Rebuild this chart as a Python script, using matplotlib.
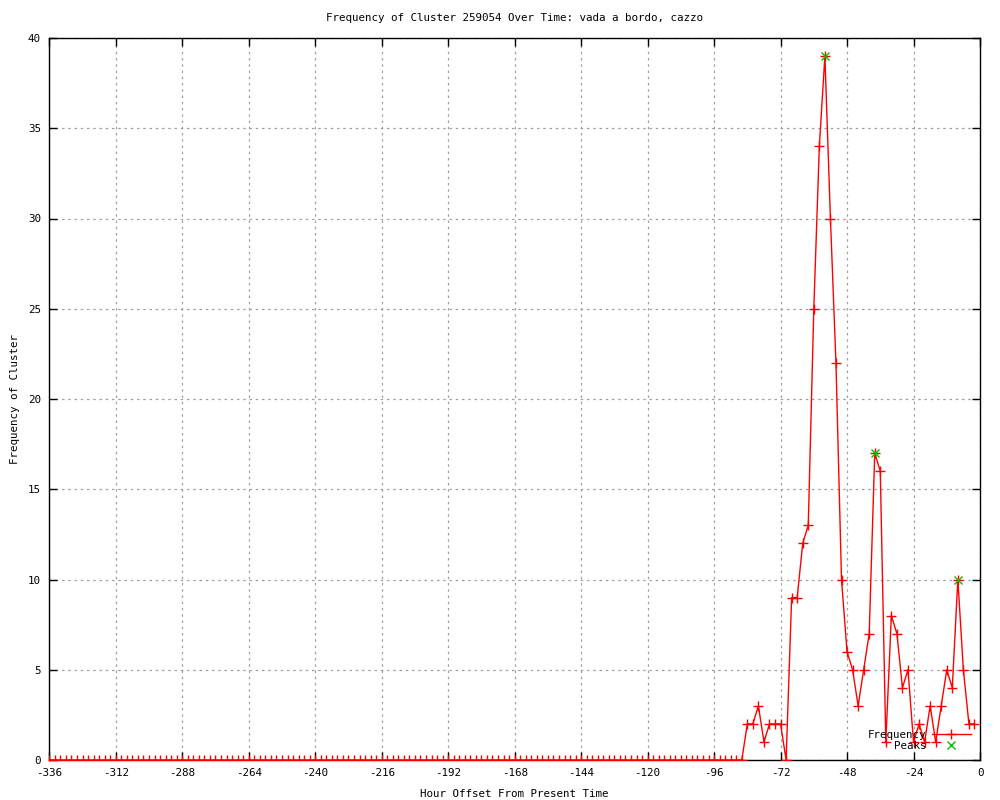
import numpy as np
import matplotlib
matplotlib.use("Agg")
import matplotlib.pyplot as plt

plt.rcParams['font.family'] = ['DejaVu Sans Mono']
plt.rcParams['axes.unicode_minus'] = False

hours = np.arange(-336, 0, 2)

frequency = [
    0, 0, 0, 0, 0, 0, 0, 0, 0, 0, 0, 0, 0, 0, 0, 0, 0, 0, 0, 0, 0,
    0, 0, 0, 0, 0, 0, 0, 0, 0, 0, 0, 0, 0, 0, 0, 0, 0, 0, 0, 0, 0,
    0, 0, 0, 0, 0, 0, 0, 0, 0, 0, 0, 0, 0, 0, 0, 0, 0, 0, 0, 0, 0,
    0, 0, 0, 0, 0, 0, 0, 0, 0, 0, 0, 0, 0, 0, 0, 0, 0, 0, 0, 0, 0,
    0, 0, 0, 0, 0, 0, 0, 0, 0, 0, 0, 0, 0, 0, 0, 0, 0, 0, 0, 0, 0,
    0, 0, 0, 0, 0, 0, 0, 0, 0, 0, 0, 0, 0, 0, 0, 0, 0, 0, 0, 0, 0,
    2, 2, 3, 1, 2, 2, 2, 0, 9, 9, 12, 13, 25, 34, 39, 30, 22, 10, 6, 5, 3,
    5, 7, 17, 16, 1, 8, 7, 4, 5, 1, 2, 1, 3, 1, 3, 5, 4, 10, 5, 2, 2,
]

peak_hours = [-56, -38, -8]
peak_values = [39, 17, 10]

x_ticks = list(range(-336, 1, 24))
y_ticks = list(range(0, 41, 5))

fig = plt.figure(figsize=(10, 8), dpi=100)
ax = fig.add_axes([0.0493, 0.05, 0.9307, 0.9025])

ax.plot(hours, frequency, color='#ff0000', linewidth=1.0, marker='+',
        markersize=7.5, markeredgewidth=1.0, label='Frequency', zorder=3)
ax.plot(peak_hours, peak_values, linestyle='none', color='#00c000', marker='x',
        markersize=6, markeredgewidth=1.0, label='Peaks', zorder=4)

ax.set_xlim(-336, 0)
ax.set_ylim(0, 40)
ax.set_xticks(x_ticks)
ax.set_yticks(y_ticks)
ax.tick_params(direction='in', length=6, width=1, top=True, right=True,
               labelsize=7.8, pad=6)
ax.grid(True, color='#a0a0a0', linestyle=(0, (2, 3)), linewidth=0.9)
for s in ax.spines.values():
    s.set_linewidth(1.0)

ax.set_title('Frequency of Cluster 259054 Over Time: vada a bordo, cazzo',
             fontsize=7.8, pad=12)
ax.set_xlabel('Hour Offset From Present Time', fontsize=7.8, labelpad=8)
ax.set_ylabel('Frequency of Cluster', fontsize=7.8, labelpad=6)

leg = ax.legend(loc='lower right', bbox_to_anchor=(0.997, 0.004),
                frameon=False, markerfirst=False, fontsize=7.8,
                handlelength=3.6, handletextpad=0.5, labelspacing=0.1,
                numpoints=1, borderaxespad=0.2)

fig.savefig('out.png', dpi=100)
